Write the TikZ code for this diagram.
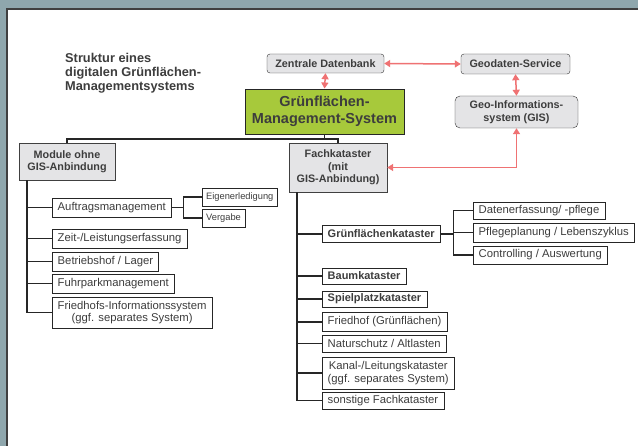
\documentclass[tikz,border=0pt]{standalone}
\usepackage{fontspec}
\setmainfont{Liberation Sans}
\usetikzlibrary{arrows.meta}
\definecolor{panelbg}{HTML}{8FA7AD}
\definecolor{boxgray}{HTML}{E4E4E6}
\definecolor{gmsgreen}{HTML}{A7C93B}
\definecolor{linkred}{HTML}{EF7273}
\definecolor{txtgray}{HTML}{3D3D3D}

\begin{document}
\begin{tikzpicture}[x=1pt, y=-1pt,
        heading/.style={font=\fontsize{12.8}{14}\selectfont\bfseries, text=txtgray, align=left, inner sep=0pt, anchor=north west},
        head/.style={draw=black!80, fill=boxgray, rounded corners=3pt, font=\fontsize{10.8}{12.5}\selectfont\bfseries, text=txtgray, align=center, inner sep=1pt},
        core/.style={draw=black!85, line width=0.9pt, fill=gmsgreen, font=\fontsize{14.5}{16.5}\selectfont\bfseries, text=txtgray, align=center, inner sep=1pt},
        group/.style={draw=black!75, fill=boxgray, font=\fontsize{10.8}{12.5}\selectfont\bfseries, text=txtgray, align=center, inner sep=1pt},
        leaf/.style={draw=black!85, fill=white, anchor=west, font=\fontsize{11.3}{12.8}\selectfont, text=txtgray, align=center, inner xsep=5.5pt, inner ysep=1pt},
        boldleaf/.style={leaf, font=\fontsize{11}{12.5}\selectfont\bfseries},
        subleaf/.style={leaf, font=\fontsize{9.3}{10}\selectfont, inner xsep=4pt},
        tree/.style={line width=1.6pt, black!85},
        link/.style={line width=1.5pt, linkred, {Triangle[length=6pt,width=7pt]}-{Triangle[length=6pt,width=7pt]}}
    ]
        \useasboundingbox (0,0) rectangle (638,446);
        % Background panel
        \fill[panelbg] (0,0) rectangle (638,446);
        \draw[fill=white, draw=black!75, line width=1.5pt] (7,9) rectangle (650,460);

        % Title
        \node[heading] (ttl) at (65,53) {Struktur eines\\digitalen Grünflächen-\\Managementsystems};

        % Top boxes
        \node[head, minimum width=117pt, minimum height=19pt] (zdb) at (325.5,63.5) {Zentrale Datenbank};
        \node[head, minimum width=109pt, minimum height=20pt] (geo) at (515.5,64) {Geodaten-Service};
        \node[head, rounded corners=5pt, minimum width=123pt, minimum height=32pt] (gis) at (516.5,112) {Geo-Informations-\\system (GIS)};
        \node[core, minimum width=159pt, minimum height=45pt] (gms) at (324.5,111.5) {Grünflächen-\\Management-System};

        % Groups
        \node[group, minimum width=96pt, minimum height=37pt] (mod) at (67,161.5) {Module ohne\\GIS-Anbindung};
        \node[group, minimum width=98pt, minimum height=49pt] (fach) at (338,167.5) {Fachkataster\\(mit\\GIS-Anbindung)};

        % Module ohne GIS-Anbindung
        \node[leaf, minimum height=19pt] (auf) at (52,207.5) {Auftragsmanagement};
        \node[subleaf, minimum height=18pt] (eig) at (202,197) {Eigenerledigung};
        \node[subleaf, minimum height=18pt] (verg) at (202,218) {Vergabe};
        \node[leaf, minimum height=19pt] (zeit) at (52,238.5) {Zeit-/Leistungserfassung};
        \node[leaf, minimum height=19pt] (bhof) at (52,261.5) {Betriebshof / Lager};
        \node[leaf, minimum height=19pt] (fuhr) at (52,283.5) {Fuhrparkmanagement};
        \node[leaf, minimum height=31pt] (fris) at (52,312.5) {Friedhofs-Informationssystem\\(ggf. separates System)};

        % Fachkataster
        \node[boldleaf, minimum height=17pt] (gfk) at (322,234) {Grünflächenkataster};
        \node[leaf, minimum height=17pt] (dat) at (473,210.5) {Datenerfassung/ -pflege};
        \node[leaf, minimum height=19pt] (pfl) at (473,232.5) {Pflegeplanung / Lebenszyklus};
        \node[leaf, minimum height=18pt] (ctrl) at (473,255) {Controlling / Auswertung};
        \node[boldleaf, minimum height=16pt] (baum) at (322,276) {Baumkataster};
        \node[boldleaf, minimum height=16pt] (spiel) at (322,299) {Spielplatzkataster};
        \node[leaf, minimum height=19pt] (frgr) at (322,322) {Friedhof (Grünflächen)};
        \node[leaf, minimum height=17pt] (natur) at (322,343.5) {Naturschutz / Altlasten};
        \node[leaf, minimum height=32pt] (kanal) at (322,373) {Kanal-/Leitungskataster\\(ggf. separates System)};
        \node[leaf, minimum height=17pt] (sonst) at (322,400.5) {sonstige Fachkataster};

        % Tree
        \draw[tree] (gms.south) -- ++(0,4.5) -| (mod.north);
        \draw[tree] (gms.south) -- ++(0,4.5) -| (fach.north);
        \foreach \n in {auf,zeit,bhof,fuhr,fris}
            \draw[tree] ([xshift=8pt]mod.south west) |- (\n.west);
        \foreach \n in {eig,verg}
            \draw[tree] (auf.east) -- ++(12,0) |- (\n.west);
        \foreach \n in {gfk,baum,spiel,frgr,natur,kanal,sonst}
            \draw[tree] ([xshift=8pt]fach.south west) |- (\n.west);
        \foreach \n in {dat,pfl,ctrl}
            \draw[tree] (gfk.east) -- ++(13,0) |- (\n.west);

        % Links
        \draw[link] (zdb.east) -- (geo.west);
        \draw[link] (zdb.south) -- (gms.north);
        \draw[link] (geo.south) -- (gis.north);
        \draw[link] (gis.south) |- (fach.east);
    \end{tikzpicture}
\end{document}
